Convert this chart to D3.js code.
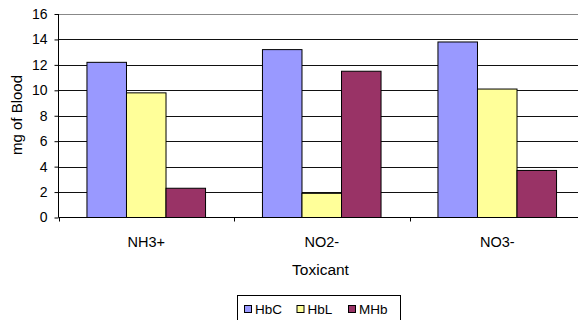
<!DOCTYPE html>
<html><head><meta charset="utf-8">
<script src="https://cdn.jsdelivr.net/npm/d3@7"></script>
<style>body{margin:0;background:#fff;}svg{display:block;font-family:Arial,"Liberation Sans",sans-serif;}</style>
</head><body>
<svg id="c" width="578" height="320"></svg>
<script>
const categories = ["NH3+", "NO2-", "NO3-"];
const seriesNames = ["HbC", "HbL", "MHb"];
const HbC = [12.2, 13.2, 13.8];
const HbL = [9.8, 1.9, 10.1];
const MHb = [2.3, 11.5, 3.7];
const yTicks = [0, 2, 4, 6, 8, 10, 12, 14, 16];
const colors = ["#9999FF", "#FFFF99", "#993366"];
const values = [HbC, HbL, MHb];

(function () {
const svg = d3.select("#c");
const FF = "Arial, Liberation Sans, sans-serif";
const pLeft = 58.5, pRight = 585, pTop = 14, pBottom = 217.5;
const x = d3.scaleBand().domain(categories).range([pLeft, pRight]);
const y = d3.scaleLinear().domain([0, 16]).range([pBottom, pTop]);
const xs = d3.scaleBand().domain(seriesNames).range([0, x.bandwidth()]).paddingOuter(0.72).paddingInner(0);

// gridlines
svg.append("g").selectAll("line").data(yTicks.filter(d => d > 0)).join("line")
  .attr("x1", pLeft).attr("x2", pRight)
  .attr("y1", d => Math.round(y(d)) + 0.5).attr("y2", d => Math.round(y(d)) + 0.5)
  .attr("stroke", d => d === 16 ? "#888" : "#111").attr("stroke-width", 1);

// bars
const g = svg.append("g");
categories.forEach((c, ci) => {
  seriesNames.forEach((s, si) => {
    const v = values[si][ci];
    g.append("rect")
      .attr("x", x(c) + xs(s)).attr("width", xs.bandwidth())
      .attr("y", y(v)).attr("height", pBottom - y(v))
      .attr("fill", colors[si]).attr("stroke", "#000").attr("stroke-width", 1);
  });
});

// y axis
const ya = svg.append("g").attr("transform", `translate(${pLeft},0)`)
  .call(d3.axisLeft(y).tickValues(yTicks).tickSize(4).tickPadding(7).tickFormat(d3.format("d")));
ya.select(".domain").attr("stroke", "#000").attr("d", `M0,${pTop}V${pBottom}`);
ya.selectAll(".tick line").attr("stroke", "#000");
ya.selectAll(".tick text").attr("font-size", "14px").attr("fill", "#000").attr("font-family", FF);

// x axis
const xa = svg.append("g").attr("transform", `translate(0,${pBottom})`)
  .call(d3.axisBottom(x).tickSize(0).tickPadding(19));
xa.select(".domain").attr("stroke", "#000").attr("d", `M${pLeft},0H${pRight}`);
xa.selectAll(".tick text").attr("font-size", "14.5px").attr("fill", "#000").attr("font-family", FF);
// category separator ticks
const seps = categories.map(c => x(c)).concat([pRight]);
svg.append("g").selectAll("line").data(seps).join("line")
  .attr("x1", d => Math.round(d) + 0.5).attr("x2", d => Math.round(d) + 0.5)
  .attr("y1", pBottom).attr("y2", pBottom + 4).attr("stroke", "#000");

// titles
svg.append("text").attr("x", 320.5).attr("y", 274.5).attr("text-anchor", "middle")
  .attr("font-size", "15.5px").attr("font-family", FF).text("Toxicant");
svg.append("text").attr("transform", "translate(21.5,115) rotate(-90)").attr("text-anchor", "middle")
  .attr("font-size", "15px").attr("font-family", FF).text("mg of Blood");

// legend
const lg = svg.append("g");
lg.append("rect").attr("x", 237.5).attr("y", 295.5).attr("width", 163).attr("height", 40)
  .attr("fill", "#fff").attr("stroke", "#000");
const lx = [244, 296.5, 348];
seriesNames.forEach((s, i) => {
  lg.append("rect").attr("x", lx[i] + 0.5).attr("y", 305.5).attr("width", 7).attr("height", 7)
    .attr("fill", colors[i]).attr("stroke", "#000");
  lg.append("text").attr("x", lx[i] + 11).attr("y", 314).attr("font-size", "13.5px").attr("font-family", FF).text(s);
});
})();
</script>
</body></html>
